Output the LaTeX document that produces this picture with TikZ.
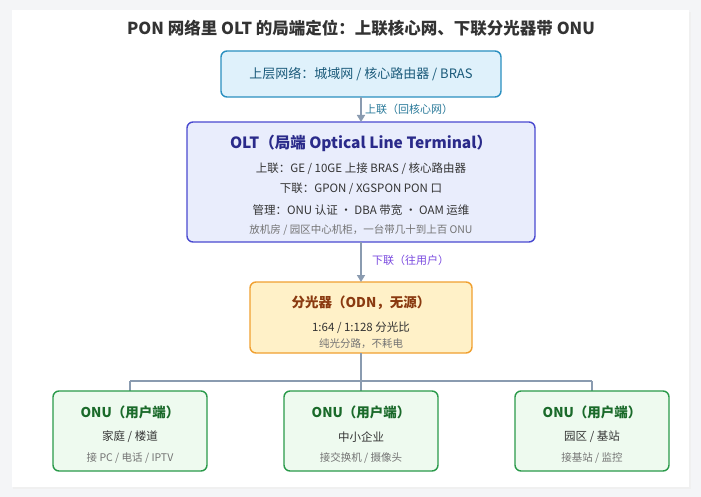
\documentclass[tikz,border=0pt]{standalone}
\usepackage{fontspec}
\setmainfont{Noto Sans CJK SC}
\usetikzlibrary{arrows.meta}
\definecolor{bgc}{HTML}{F4F5F7}
\definecolor{arr}{HTML}{8A9BB0}
\definecolor{topD}{HTML}{2A8FC0}\definecolor{topF}{HTML}{DFF1FB}\definecolor{topT}{HTML}{1A5A7A}
\definecolor{oltD}{HTML}{4A4AD0}\definecolor{oltF}{HTML}{E9EDFC}\definecolor{oltT}{HTML}{2A2A8A}
\definecolor{spD}{HTML}{F0A030}\definecolor{spF}{HTML}{FFF1C8}\definecolor{spT}{HTML}{8A3A10}
\definecolor{onD}{HTML}{2A9A4A}\definecolor{onF}{HTML}{EEFAEF}\definecolor{onT}{HTML}{1A6A2A}
\definecolor{l1c}{HTML}{2A7A9A}\definecolor{l2c}{HTML}{7A4AE0}
\tikzset{
  box/.style={draw, line width=1.4pt, rounded corners=6pt, minimum height=0pt},
  t/.style={inner sep=0pt, anchor=center},
  conn/.style={draw=arr, line width=1.6pt},
  tip/.style={conn, -{Triangle[length=7pt,width=8pt]}},
  fT/.style={font=\bfseries\fontsize{13.5}{15}\selectfont},
  fM/.style={font=\fontsize{11.5}{13}\selectfont,text=black!80},
  fS/.style={font=\fontsize{10.5}{12}\selectfont,text=black!55},
}
\begin{document}
\begin{tikzpicture}[x=1pt,y=-1pt]
\fill[bgc] (0,0) rectangle (701,497);
\useasboundingbox (0,0) rectangle (701,497);
\fill[black!6] (13,12) rectangle (691,489);
\fill[white] (12,10) rectangle (689,487);
\node[t,font=\bfseries\fontsize{16.5}{18}\selectfont,text=black!80] (title) at (361,28) {PON 网络里 OLT 的局端定位：上联核心网、下联分光器带 ONU};
% top
\draw[box, draw=topD, fill=topF] (221,51) rectangle (501,97);
\coordinate (topS) at (361,97);
\node[t,font=\fontsize{13}{15}\selectfont,text=topT] (top) at (361,74) {上层网络：城域网 / 核心路由器 / BRAS};
% OLT
\draw[box, draw=oltD, fill=oltF] (187,122) rectangle (535,242);
\coordinate (oltN) at (361,122); \coordinate (oltS) at (361,242);
\node[t,font=\bfseries\fontsize{15.5}{17}\selectfont,text=oltT] (olt) at (361,143) {OLT（局端 Optical Line Terminal）};
\node[t,fM] (o1) at (361,169) {上联：GE / 10GE 上接 BRAS / 核心路由器};
\node[t,fM] (o2) at (361,189) {下联：GPON / XGSPON PON 口};
\node[t,fM] (o3) at (361,210) {管理：ONU 认证 · DBA 带宽 · OAM 运维};
\node[t,fS] (o4) at (361,230) {放机房 / 园区中心机柜，一台带几十到上百 ONU};
% splitter
\draw[box, draw=spD, fill=spF] (250,282) rectangle (472,353);
\coordinate (spN) at (361,282); \coordinate (spS) at (361,353);
\node[t,fT,text=spT] (sp) at (361,303) {分光器（ODN，无源）};
\node[t,fM] (s1) at (361,328) {1:64 / 1:128 分光比};
\node[t,fS] (s2) at (361,344) {纯光分路，不耗电};
% arrows
\draw[tip] (topS) -- (oltN);
\node[t,anchor=west,font=\fontsize{11}{13}\selectfont,text=l1c] (l1) at (365,109) {上联（回核心网）};
\draw[tip] (oltS) -- (spN);
\node[t,anchor=west,font=\fontsize{11}{13}\selectfont,text=l2c] (l2) at (372,260) {下联（往用户）};
% tree
\coordinate (j) at (361,381);
\coordinate (jl) at (130,381); \coordinate (jr) at (592,381);
\coordinate (n1) at (130,391); \coordinate (n2) at (361,391); \coordinate (n3) at (592,391);
\draw[conn, line width=1.3pt] (spS) -- (j) (jl) -- (jr) (jl) -- (n1) (j) -- (n2) (jr) -- (n3);
% ONUs
\foreach \cx in {130,361,592}{
  \draw[box, draw=onD, fill=onF] (\cx-77,391) rectangle (\cx+77,471);
  \node[t,fT,text=onT] (on\cx) at (\cx,412) {ONU（用户端）};
}
\node[t,fM] (a1) at (130,437) {家庭 / 楼道};
\node[t,fS] (b1) at (130,458) {接 PC / 电话 / IPTV};
\node[t,fM] (a2) at (361,437) {中小企业};
\node[t,fS] (b2) at (361,458) {接交换机 / 摄像头};
\node[t,fM] (a3) at (592,437) {园区 / 基站};
\node[t,fS] (b3) at (592,458) {接基站 / 监控};
\end{tikzpicture}
\end{document}
